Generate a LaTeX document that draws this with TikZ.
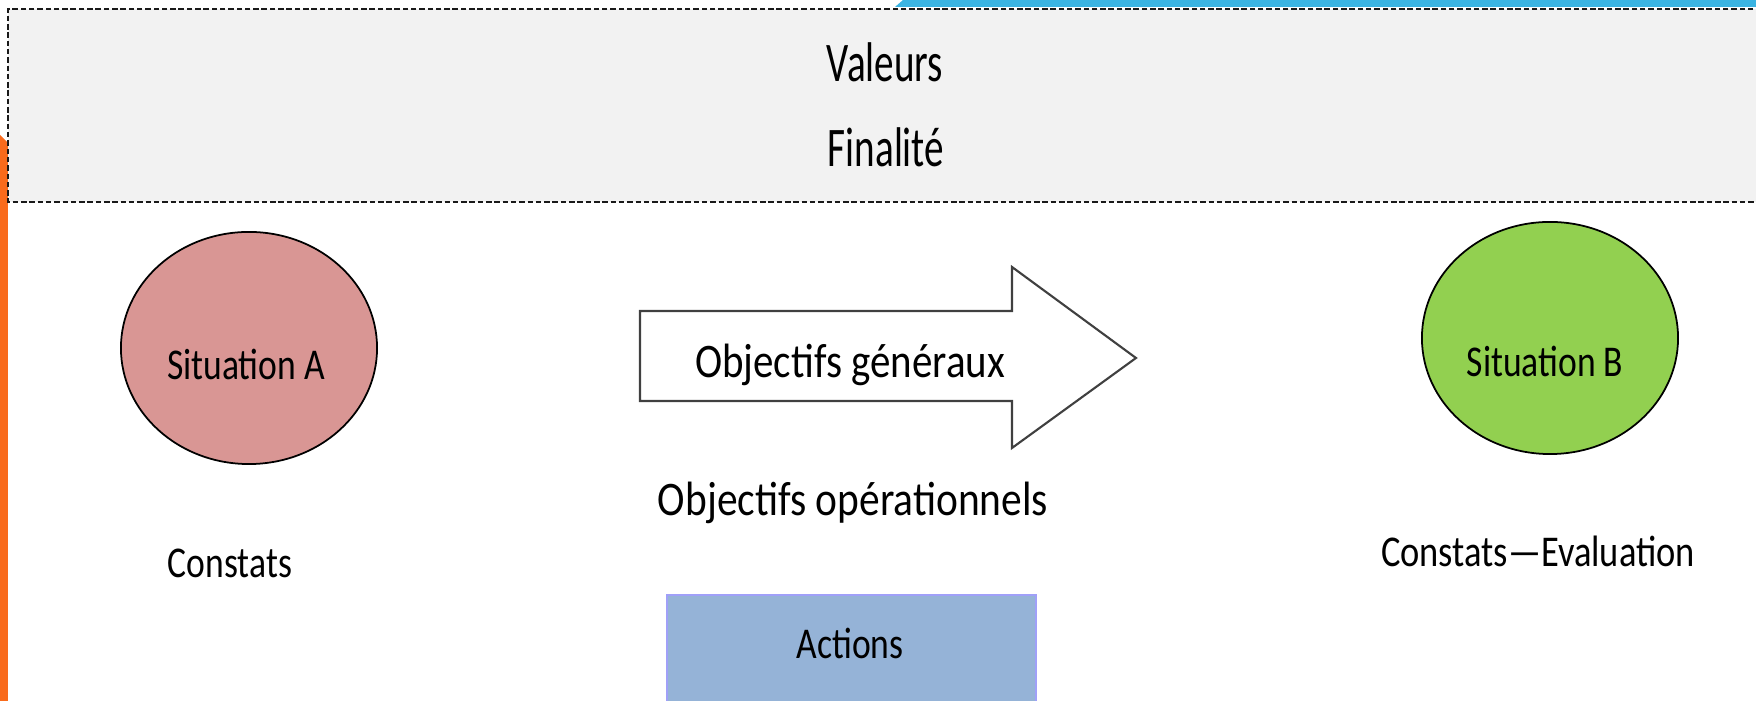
\documentclass[tikz,border=0pt]{standalone}
\usepackage{fontspec}
\setmainfont{Carlito}
\newfontfamily\fA[FakeStretch=0.81]{Carlito}
\newfontfamily\fB[FakeStretch=0.70]{Carlito}
\newfontfamily\fC[FakeStretch=0.85]{Carlito}
\newfontfamily\fD[FakeStretch=0.86]{Carlito}
\newfontfamily\fE[FakeStretch=0.83]{Carlito}
\definecolor{bandgray}{HTML}{F2F2F2}
\definecolor{pinkA}{HTML}{D99694}
\definecolor{greenB}{HTML}{92D050}
\definecolor{actfill}{HTML}{95B3D7}
\definecolor{actline}{HTML}{A0A0F8}
\definecolor{orangebar}{HTML}{F96B1C}
\definecolor{bluebar}{HTML}{3BB4E2}
\definecolor{arrowline}{HTML}{404040}
\tikzset{
  x=0.01cm, y=-0.01cm,
  ellnode/.style={ellipse, draw=black, line width=0.5pt, minimum width=2.56cm, minimum height=2.32cm, inner sep=0pt},
  toptext/.style={anchor=base, inner sep=0pt, font=\fB\fontsize{15.9}{19}\selectfont},
  lowtext/.style={anchor=base, inner sep=0pt, font=\fA\fontsize{12.5}{15}\selectfont},
  objtext/.style={anchor=base, inner sep=0pt, font=\fC\fontsize{13.7}{16}\selectfont},
  optext/.style={anchor=base, inner sep=0pt, font=\fD\fontsize{13.7}{16}\selectfont},
  evtext/.style={anchor=base, inner sep=0pt, font=\fE\fontsize{12.5}{15}\selectfont},
  bandline/.style={draw=black!90, line width=0.75pt, dash pattern=on 0.055cm off 0.028cm},
}
\usetikzlibrary{shapes.geometric}
\begin{document}
\begin{tikzpicture}
\useasboundingbox (0,0) rectangle (1756,701);
\begin{scope}
\clip (0,0) rectangle (1756,701);
% decorative bars
\fill[orangebar] (0,135) -- (8,143) -- (8,710) -- (0,710) -- cycle;
\fill[bluebar] (895,7) -- (903,0) -- (1760,0) -- (1760,7) -- cycle;
% band
\fill[bandgray] (8,9) rectangle (1770,202);
\draw[bandline] (1770,9) -- (8,9) -- (8,202) -- (1770,202);
% ellipses
\node[ellnode, fill=pinkA] (sitA) at (249,348) {};
\node[ellnode, fill=greenB] (sitB) at (1550,338) {};
% arrow
\draw[fill=white, draw=arrowline, line width=0.6pt, line join=miter]
  (640,311) -- (1012,311) -- (1012,267) -- (1136,358) -- (1012,448) -- (1012,401) -- (640,401) -- cycle;
% actions box
\node[anchor=north west, fill=actfill, draw=actline, line width=0.6pt, minimum width=3.69cm, minimum height=1.3cm, inner sep=0pt] (actbox) at (666,594) {};
\end{scope}
% texts
\node[toptext] (valeurs) at (885,82) {Valeurs};
\node[toptext] (finalite) at (886,167) {Finalité};
\node[lowtext] (tA) at (246,380) {Situation A};
\node[lowtext] (tB) at (1545,377) {Situation B};
\node[objtext] (og) at (850,378) {Objectifs généraux};
\node[optext] (oo) at (853,516) {Objectifs opérationnels};
\node[lowtext] (constA) at (230,578) {Constats};
\node[evtext] (constB) at (1538,567) {Constats—Evaluation};
\node[lowtext] (actions) at (850,659) {Actions};
\end{tikzpicture}
\end{document}
